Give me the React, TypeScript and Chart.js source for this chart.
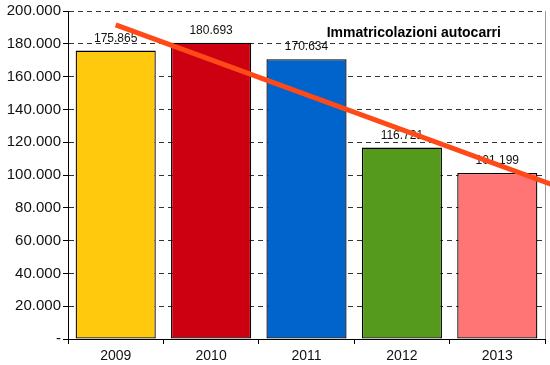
import React, { useEffect, useRef } from "react";
import { Chart, registerables } from "chart.js";

Chart.register(...registerables);

const years = ["2009", "2010", "2011", "2012", "2013"];
const registrations = [175865, 180693, 170634, 116721, 101199];
const barColors = ["#FFC90E", "#CC0010", "#0064CC", "#559A1C", "#FF7575"];
const trendIndex = [0, 4.6];
const trendValues = [191500, 93600];
const chartTitle = "Immatricolazioni autocarri";
const yTicks = [0, 20000, 40000, 60000, 80000, 100000, 120000, 140000, 160000, 180000, 200000];

const FONT = "'Liberation Sans', Arial, sans-serif";

function fmt(v: number): string {
  if (v === 0) return "-";
  return String(Math.round(v)).replace(/\B(?=(\d{3})+(?!\d))/g, ".");
}

const overlayPlugin = {
  id: "overlay",
  beforeDatasetsDraw(chart: any) {
    const { ctx, chartArea } = chart;
    ctx.save();
    ctx.strokeStyle = "#9a9a9a";
    ctx.lineWidth = 1;
    ctx.beginPath();
    ctx.moveTo(chartArea.right + 0.5, chartArea.top);
    ctx.lineTo(chartArea.right + 0.5, chartArea.bottom);
    ctx.stroke();
    ctx.restore();
  },
  afterDatasetsDraw(chart: any) {
    const { ctx, chartArea, scales } = chart;
    const meta = chart.getDatasetMeta(0);
    ctx.save();
    // value labels
    ctx.fillStyle = "#111";
    ctx.font = `12px ${FONT}`;
    ctx.textAlign = "center";
    ctx.textBaseline = "bottom";
    meta.data.forEach((bar: any, i: number) => {
      ctx.fillText(fmt(registrations[i]), bar.x, bar.y - 6);
    });
    // title
    ctx.font = `bold 14px ${FONT}`;
    ctx.fillStyle = "#000";
    ctx.textBaseline = "middle";
    ctx.fillText(chartTitle, chartArea.left + (chartArea.right - chartArea.left) * 0.725, chartArea.top + 22);
    // trend line
    ctx.strokeStyle = "#FF4A17";
    ctx.lineWidth = 5;
    ctx.lineCap = "butt";
    ctx.beginPath();
    trendIndex.forEach((ix, k) => {
      const x = scales.x.getPixelForValue(ix);
      const y = scales.y.getPixelForValue(trendValues[k]);
      if (k === 0) ctx.moveTo(x, y);
      else ctx.lineTo(x, y);
    });
    ctx.stroke();
    ctx.restore();
  },
};

export default function App() {
  const ref = useRef<HTMLCanvasElement | null>(null);
  useEffect(() => {
    if (!ref.current) return;
    const chart = new Chart(ref.current, {
      type: "bar",
      data: {
        labels: years,
        datasets: [
          {
            data: registrations,
            backgroundColor: barColors,
            borderColor: "#000",
            borderWidth: 1.3,
            borderSkipped: false,
            inflateAmount: 0,
            categoryPercentage: 1,
            barPercentage: 0.84,
          },
        ],
      },
      options: {
        animation: false,
        responsive: false,
        maintainAspectRatio: false,
        layout: { padding: { top: 11, right: 5, left: 0, bottom: 0 } },
        plugins: { legend: { display: false }, tooltip: { enabled: false }, title: { display: false } },
        scales: {
          x: {
            grid: {
              offset: true,
              drawOnChartArea: false,
              drawTicks: true,
              tickLength: 5,
              tickColor: "#000",
            },
            border: { display: true, color: "#000", width: 1 },
            ticks: { color: "#111", font: { family: FONT, size: 14 }, padding: 4 },
            afterFit: (s: any) => {
              s.height = 26;
            },
          },
          y: {
            min: 0,
            max: 200000,
            afterBuildTicks: (s: any) => {
              s.ticks = yTicks.map((v) => ({ value: v }));
            },
            grid: {
              color: "#333",
              tickLength: 5,
              tickColor: "#000",
              tickBorderDash: [],
            },
            border: { display: true, color: "#000", width: 1, dash: [5, 4] },
            ticks: {
              color: "#111",
              font: { family: FONT, size: 15 },
              padding: 2,
              callback: (v: any) => fmt(Number(v)),
            },
            afterFit: (s: any) => {
              s.width = 68;
            },
          },
        },
      },
      plugins: [overlayPlugin],
    });
    return () => chart.destroy();
  }, []);
  return (
    <div style={{ position: "fixed", left: 0, top: 0, width: 550, height: 365, background: "#fff" }}>
      <canvas ref={ref} width={550} height={365} style={{ width: 550, height: 365 }} />
    </div>
  );
}
